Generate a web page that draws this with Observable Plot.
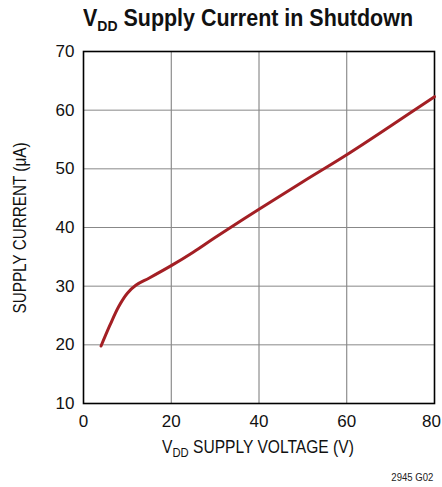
<!DOCTYPE html>
<html>
<head>
<meta charset="utf-8">
<script src="https://cdn.jsdelivr.net/npm/d3@7"></script>
<script src="https://cdn.jsdelivr.net/npm/@observablehq/plot@0.6"></script>
<style>
  html, body { margin: 0; padding: 0; background: #fff; }
  #wrap { position: relative; width: 442px; height: 487px; overflow: hidden; font-family: "Liberation Sans", Arial, sans-serif; }
  #title { position: absolute; left: 83px; top: 5px; font-weight: bold; font-size: 23px; color: #111; white-space: nowrap; transform-origin: 0 0; display: inline-block; }
  #title sub { font-size: 15px; vertical-align: -5px; line-height: 0; }
  #chart { position: absolute; left: 0; top: 40px; }
  #caption { position: absolute; right: 9px; top: 471px; font-size: 11px; color: #222; transform-origin: 100% 0; }
</style>
</head>
<body>
<div id="wrap">
  <div id="title">V<sub>DD</sub> Supply Current in Shutdown</div>
  <div id="chart"></div>
  <div id="caption">2945 G02</div>
</div>
<script>
const voltage = [4, 6, 8, 10, 12, 15, 20, 25, 30, 40, 50, 60, 70, 80];
const current = [19.8, 23.3, 26.5, 28.8, 30.2, 31.4, 33.5, 35.8, 38.3, 43.1, 47.8, 52.4, 57.3, 62.3];
const xTicks = [0, 20, 40, 60, 80];
const yTicks = [10, 20, 30, 40, 50, 60, 70];
const xLabelMain = "V";
const xLabelSub = "DD";
const xLabelRest = "SUPPLY VOLTAGE (V)";
const yLabel = "SUPPLY CURRENT (μA)";

const data = voltage.map((v, i) => ({v, c: current[i]}));

const plot = Plot.plot({
  width: 442,
  height: 430,
  marginLeft: 83,
  marginRight: 8,
  marginTop: 11,
  marginBottom: 67,
  style: {fontFamily: '"Liberation Sans", Arial, sans-serif', fontSize: "17px", color: "#111", background: "#fff"},
  x: {domain: [0, 80], ticks: xTicks},
  y: {domain: [10, 70], ticks: yTicks},
  marks: [
    Plot.gridX(xTicks, {stroke: "#777", strokeOpacity: 1, strokeWidth: 1}),
    Plot.gridY(yTicks, {stroke: "#888", strokeOpacity: 1, strokeWidth: 1}),
    Plot.axisX(xTicks.slice(0, -1), {tickSize: 0, tickPadding: 11, label: null, fontSize: 17}),
    Plot.axisX(xTicks.slice(-1), {tickSize: 0, tickPadding: 11, label: null, fontSize: 17, dx: -3}),
    Plot.axisY(yTicks, {tickSize: 0, tickPadding: 9, label: null, fontSize: 17}),
    Plot.frame({stroke: "#000", strokeWidth: 1.6}),
    Plot.line(data, {x: "v", y: "c", curve: "catmull-rom", stroke: "#a31f24", strokeWidth: 3})
  ]
});
document.getElementById("chart").appendChild(plot);

const svg = d3.select(plot);

// x-axis label with subscript: separate text pieces in a group, condensed to ~192 px
const g = svg.append("g").attr("fill", "#111").attr("text-anchor", "start");
const p1 = g.append("text").attr("text-anchor", "start").attr("font-size", 18).attr("y", 0).text(xLabelMain);
let x = p1.node().getComputedTextLength();
const p2 = g.append("text").attr("text-anchor", "start").attr("font-size", 13).attr("x", x).attr("y", 4).text(xLabelSub);
x += p2.node().getComputedTextLength() + 5;
const p3 = g.append("text").attr("text-anchor", "start").attr("font-size", 18).attr("x", x).attr("y", 0).text(xLabelRest);
x += p3.node().getComputedTextLength();
const sx = 192 / x;
g.attr("transform", `translate(${258 - 96},413) scale(${sx},1)`);

// y-axis label, rotated
svg.append("text")
  .attr("transform", "translate(26,188) rotate(-90)")
  .attr("text-anchor", "middle")
  .attr("font-size", 18)
  .attr("fill", "#111")
  .attr("textLength", 171)
  .attr("lengthAdjust", "spacingAndGlyphs")
  .text(yLabel);

// condense the title to the reference width (about 330 px, starting at x = 83)
const title = document.getElementById("title");
const w = title.getBoundingClientRect().width;
title.style.transform = `scaleX(${330 / w})`;
const cap = document.getElementById("caption");
const cw = cap.getBoundingClientRect().width;
cap.style.transform = `scaleX(${42 / cw})`;
</script>
</body>
</html>
